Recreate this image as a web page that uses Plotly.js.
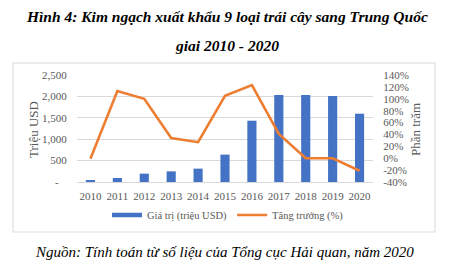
<!DOCTYPE html>
<html>
<head>
<meta charset="utf-8">
<script src="https://cdn.plot.ly/plotly-3.0.1.min.js"></script>
<style>
html,body{margin:0;padding:0;background:#fff;}
#chart{width:453px;height:271px;}
</style>
</head>
<body>
<div id="chart"></div>
<script>
const years = ['2010','2011','2012','2013','2014','2015','2016','2017','2018','2019','2020'];
const values = [47, 94, 195, 249, 312, 640, 1432, 2033, 2030, 2010, 1596];
const growth = [-1, 113, 100, 34, 27, 105, 123, 41, 0, 0, -21];
const leftTickVals = [0, 500, 1000, 1500, 2000, 2500];
const leftTickText = ['-\u00a0\u00a0\u00a0', '500', '1,000', '1,500', '2,000', '2,500'];
const rightTickVals = [-40, -20, 0, 20, 40, 60, 80, 100, 120, 140];
const rightTickText = ['-40%', '-20%', '0%', '20%', '40%', '60%', '80%', '100%', '120%', '140%'];

const serif = 'Liberation Serif, Times New Roman, serif';
const gray = '#595959';
const blue = '#4472C4';
const orange = '#ED7D31';

const W = 453, H = 271;
const L = 77, R = 80, T = 75, B = 89;
const pw = W - L - R, ph = H - T - B;
const px = x => (x - L) / pw;
const py = y => (H - B - y) / ph;

const traces = [
  {type:'bar', x: years, y: values, marker:{color: blue}, showlegend:false, hoverinfo:'skip'},
  {type:'scatter', mode:'lines', x: years, y: growth, yaxis:'y2', line:{color: orange, width:2.6}, showlegend:false, hoverinfo:'skip'},
  {type:'scatter', mode:'lines', x:[null], y:[null], name:'Giá trị (triệu USD)', line:{color: blue, width:4.5}},
  {type:'scatter', mode:'lines', x:[null], y:[null], yaxis:'y2', name:'Tăng trưởng (%)', line:{color: orange, width:2.6}}
];

const layout = {
  width: W, height: H,
  margin: {l: L, r: R, t: T, b: B},
  paper_bgcolor: '#fff', plot_bgcolor: '#fff',
  bargap: 0.66,
  showlegend: true,
  legend: {orientation:'h', x: px(228), xanchor:'center', y: py(215), yanchor:'middle',
           font:{family: serif, size: 10.5, color: gray}, itemwidth: 30, tracegroupgap: 0},
  xaxis: {type:'category', showgrid:false, showline:true, linecolor:'#d9d9d9', linewidth:1,
          ticks:'outside', ticklen:4, tickcolor:'rgba(0,0,0,0)',
          tickfont:{family: serif, size: 11, color: gray}, fixedrange:true},
  yaxis: {range:[0, 2500], tickvals: leftTickVals, ticktext: leftTickText,
          showgrid:true, gridcolor:'#d9d9d9', gridwidth:1, zeroline:false,
          ticks:'outside', ticklen:7, tickcolor:'rgba(0,0,0,0)',
          tickfont:{family: serif, size: 11, color: gray},
          fixedrange:true},
  yaxis2: {range:[-40, 140], tickvals: rightTickVals, ticktext: rightTickText,
           overlaying:'y', side:'right', showgrid:false, zeroline:false,
           ticks:'outside', ticklen:7, tickcolor:'rgba(0,0,0,0)',
           tickfont:{family: serif, size: 11, color: gray},
           fixedrange:true},
  shapes: [
    {type:'rect', xref:'paper', yref:'paper', x0: px(13), x1: px(435), y0: py(232), y1: py(63),
     line:{color:'#d9d9d9', width:1}, fillcolor:'rgba(0,0,0,0)', layer:'below'}
  ],
  annotations: [
    {xref:'paper', yref:'paper', x: px(226.5), y: py(17), xanchor:'center', yanchor:'middle', showarrow:false,
     text:'<b><i>Hình 4: Kim ngạch xuất khẩu 9 loại trái cây sang Trung Quốc</i></b>',
     font:{family: serif, size: 15.5, color:'#000'}},
    {xref:'paper', yref:'paper', x: px(226.5), y: py(45), xanchor:'center', yanchor:'middle', showarrow:false,
     text:'<b><i>giai 2010 - 2020</i></b>',
     font:{family: serif, size: 15.5, color:'#000'}},
    {xref:'paper', yref:'paper', x: px(224), y: py(252), xanchor:'center', yanchor:'middle', showarrow:false,
     text:'<i>Nguồn: Tính toán từ số liệu của Tổng cục Hải quan, năm 2020</i>',
     font:{family: serif, size: 15, color:'#000'}},
    {xref:'paper', yref:'paper', x: px(33), y: py(130), xanchor:'center', yanchor:'middle', showarrow:false,
     textangle:-90, text:'Triệu USD', font:{family: serif, size: 13, color: gray}},
    {xref:'paper', yref:'paper', x: px(415), y: py(130), xanchor:'center', yanchor:'middle', showarrow:false,
     textangle:-90, text:'Phần trăm', font:{family: serif, size: 13, color: gray}}
  ]
};

Plotly.newPlot('chart', traces, layout, {staticPlot:true, displayModeBar:false});
</script>
</body>
</html>
